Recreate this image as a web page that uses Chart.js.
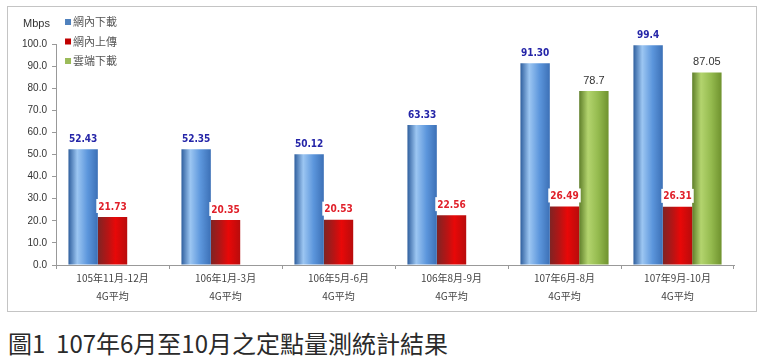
<!DOCTYPE html>
<html>
<head>
<meta charset="utf-8">
<script src="https://cdn.jsdelivr.net/npm/chart.js@4/dist/chart.umd.min.js"></script>
<style>
  body { margin: 0; background: #fff; width: 768px; height: 364px; overflow: hidden; }
  #box { position: absolute; left: 7px; top: 6px; width: 748px; height: 304px; border: 1px solid #c4c4c4; }
  #caption { position: absolute; left: 8px; top: 327px; font-family: "Noto Sans CJK TC", "Noto Sans", sans-serif; font-size: 24px; color: #2a2a2a; line-height: 32px; white-space: pre; }
</style>
</head>
<body>
<div id="box"><canvas id="chart" width="748" height="304"></canvas></div>
<div id="caption">圖1  107年6月至10月之定點量測統計結果</div>
<script>
const categories = [
  ['105年11月-12月', '4G平均'],
  ['106年1月-3月', '4G平均'],
  ['106年5月-6月', '4G平均'],
  ['106年8月-9月', '4G平均'],
  ['107年6月-8月', '4G平均'],
  ['107年9月-10月', '4G平均']
];
const seriesNames = ['網內下載', '網內上傳', '雲端下載'];
const innerDown = [52.43, 52.35, 50.12, 63.33, 91.30, 99.4];
const innerUp = [21.73, 20.35, 20.53, 22.56, 26.49, 26.31];
const cloudDown = [null, null, null, null, 78.7, 87.05];
const innerDownText = ['52.43', '52.35', '50.12', '63.33', '91.30', '99.4'];
const innerUpText = ['21.73', '20.35', '20.53', '22.56', '26.49', '26.31'];
const cloudDownText = ['', '', '', '', '78.7', '87.05'];
const yTicks = [0, 10, 20, 30, 40, 50, 60, 70, 80, 90, 100];

// cylinder-like shading per series
const shades = [
  [[0, '#2f5f9e'], [0.3, '#9cc6f2'], [0.65, '#5c96dc'], [1, '#3c70b6']],
  [[0, '#7e2424'], [0.35, '#b81414'], [0.6, '#e80808'], [1, '#b80c0c']],
  [[0, '#5f7f2a'], [0.3, '#b3d46e'], [0.65, '#94ba4e'], [1, '#6f922e']]
];
const legendColors = ['#4f81bd', '#c00000', '#9bbb59'];
const labelStyles = [
  { text: innerDownText, color: '#2525a8', font: 'bold 10px "DejaVu Sans Condensed", "Liberation Sans", sans-serif' },
  { text: innerUpText, color: '#e0202a', font: 'bold 10px "DejaVu Sans Condensed", "Liberation Sans", sans-serif' },
  { text: cloudDownText, color: '#333', font: '11px "Liberation Sans", sans-serif' }
];

const barShading = {
  id: 'barShading',
  beforeDatasetsDraw(chart) {
    const ctx = chart.ctx;
    chart.data.datasets.forEach((ds, i) => {
      chart.getDatasetMeta(i).data.forEach(el => {
        if (!el.width) return;
        const g = ctx.createLinearGradient(el.x - el.width / 2, 0, el.x + el.width / 2, 0);
        shades[i].forEach(s => g.addColorStop(s[0], s[1]));
        el.options.backgroundColor = g;
      });
    });
  },
  afterDatasetsDraw(chart) {
    const ctx = chart.ctx;
    ctx.save();
    ctx.textAlign = 'center';
    ctx.textBaseline = 'bottom';
    chart.data.datasets.forEach((ds, i) => {
      const st = labelStyles[i];
      chart.getDatasetMeta(i).data.forEach((el, j) => {
        const t = st.text[j];
        if (!t || ds.data[j] == null) return;
        ctx.font = st.font;
        const w = ctx.measureText(t).width;
        if (i === 1) {
          ctx.fillStyle = '#fff';
          ctx.fillRect(el.x - w / 2 - 2, el.y - 18, w + 4, 14);
        }
        ctx.fillStyle = st.color;
        ctx.fillText(t, el.x, el.y - 5);
      });
    });
    ctx.restore();
  },
  afterDraw(chart) {
    const ctx = chart.ctx;
    const a = chart.chartArea;
    ctx.save();
    ctx.font = '11px "Liberation Sans", sans-serif';
    ctx.fillStyle = '#333';
    ctx.textBaseline = 'middle';
    ctx.textAlign = 'left';
    ctx.fillText('Mbps', a.left - 33, 17);
    seriesNames.forEach((name, i) => {
      const y = 15 + i * 19.5;
      ctx.fillStyle = legendColors[i];
      ctx.fillRect(a.left + 9, y - 3, 6, 6);
      ctx.fillStyle = '#555';
      ctx.font = '11px "Noto Sans CJK TC", sans-serif';
      ctx.fillText(name, a.left + 17, y);
    });
    ctx.restore();
  }
};

new Chart(document.getElementById('chart'), {
  type: 'bar',
  data: {
    labels: categories,
    datasets: [
      { label: seriesNames[0], data: innerDown, backgroundColor: () => legendColors[0] },
      { label: seriesNames[1], data: innerUp, backgroundColor: () => legendColors[1] },
      { label: seriesNames[2], data: cloudDown, backgroundColor: () => legendColors[2] }
    ]
  },
  options: {
    responsive: false,
    animation: false,
    layout: { padding: { left: 9, right: 22, top: 37, bottom: 6 } },
    datasets: { bar: { categoryPercentage: 0.78, barPercentage: 1 } },
    plugins: { legend: { display: false }, tooltip: { enabled: false } },
    scales: {
      x: {
        grid: { drawOnChartArea: false, tickLength: 4, color: '#999' },
        border: { color: '#999' },
        ticks: { color: '#444', font: { size: 10, family: '"Noto Sans CJK TC", sans-serif', lineHeight: 1.8 }, maxRotation: 0, padding: 0 }
      },
      y: {
        min: 0,
        max: 100,
        afterBuildTicks: axis => { axis.ticks = yTicks.map(v => ({ value: v })); },
        grid: { drawOnChartArea: false, tickLength: 4, color: '#999' },
        border: { color: '#999' },
        ticks: { color: '#333', font: { size: 10, family: '"Liberation Sans", sans-serif' }, padding: 5, callback: v => v.toFixed(1) }
      }
    }
  },
  plugins: [barShading]
});
</script>
</body>
</html>
